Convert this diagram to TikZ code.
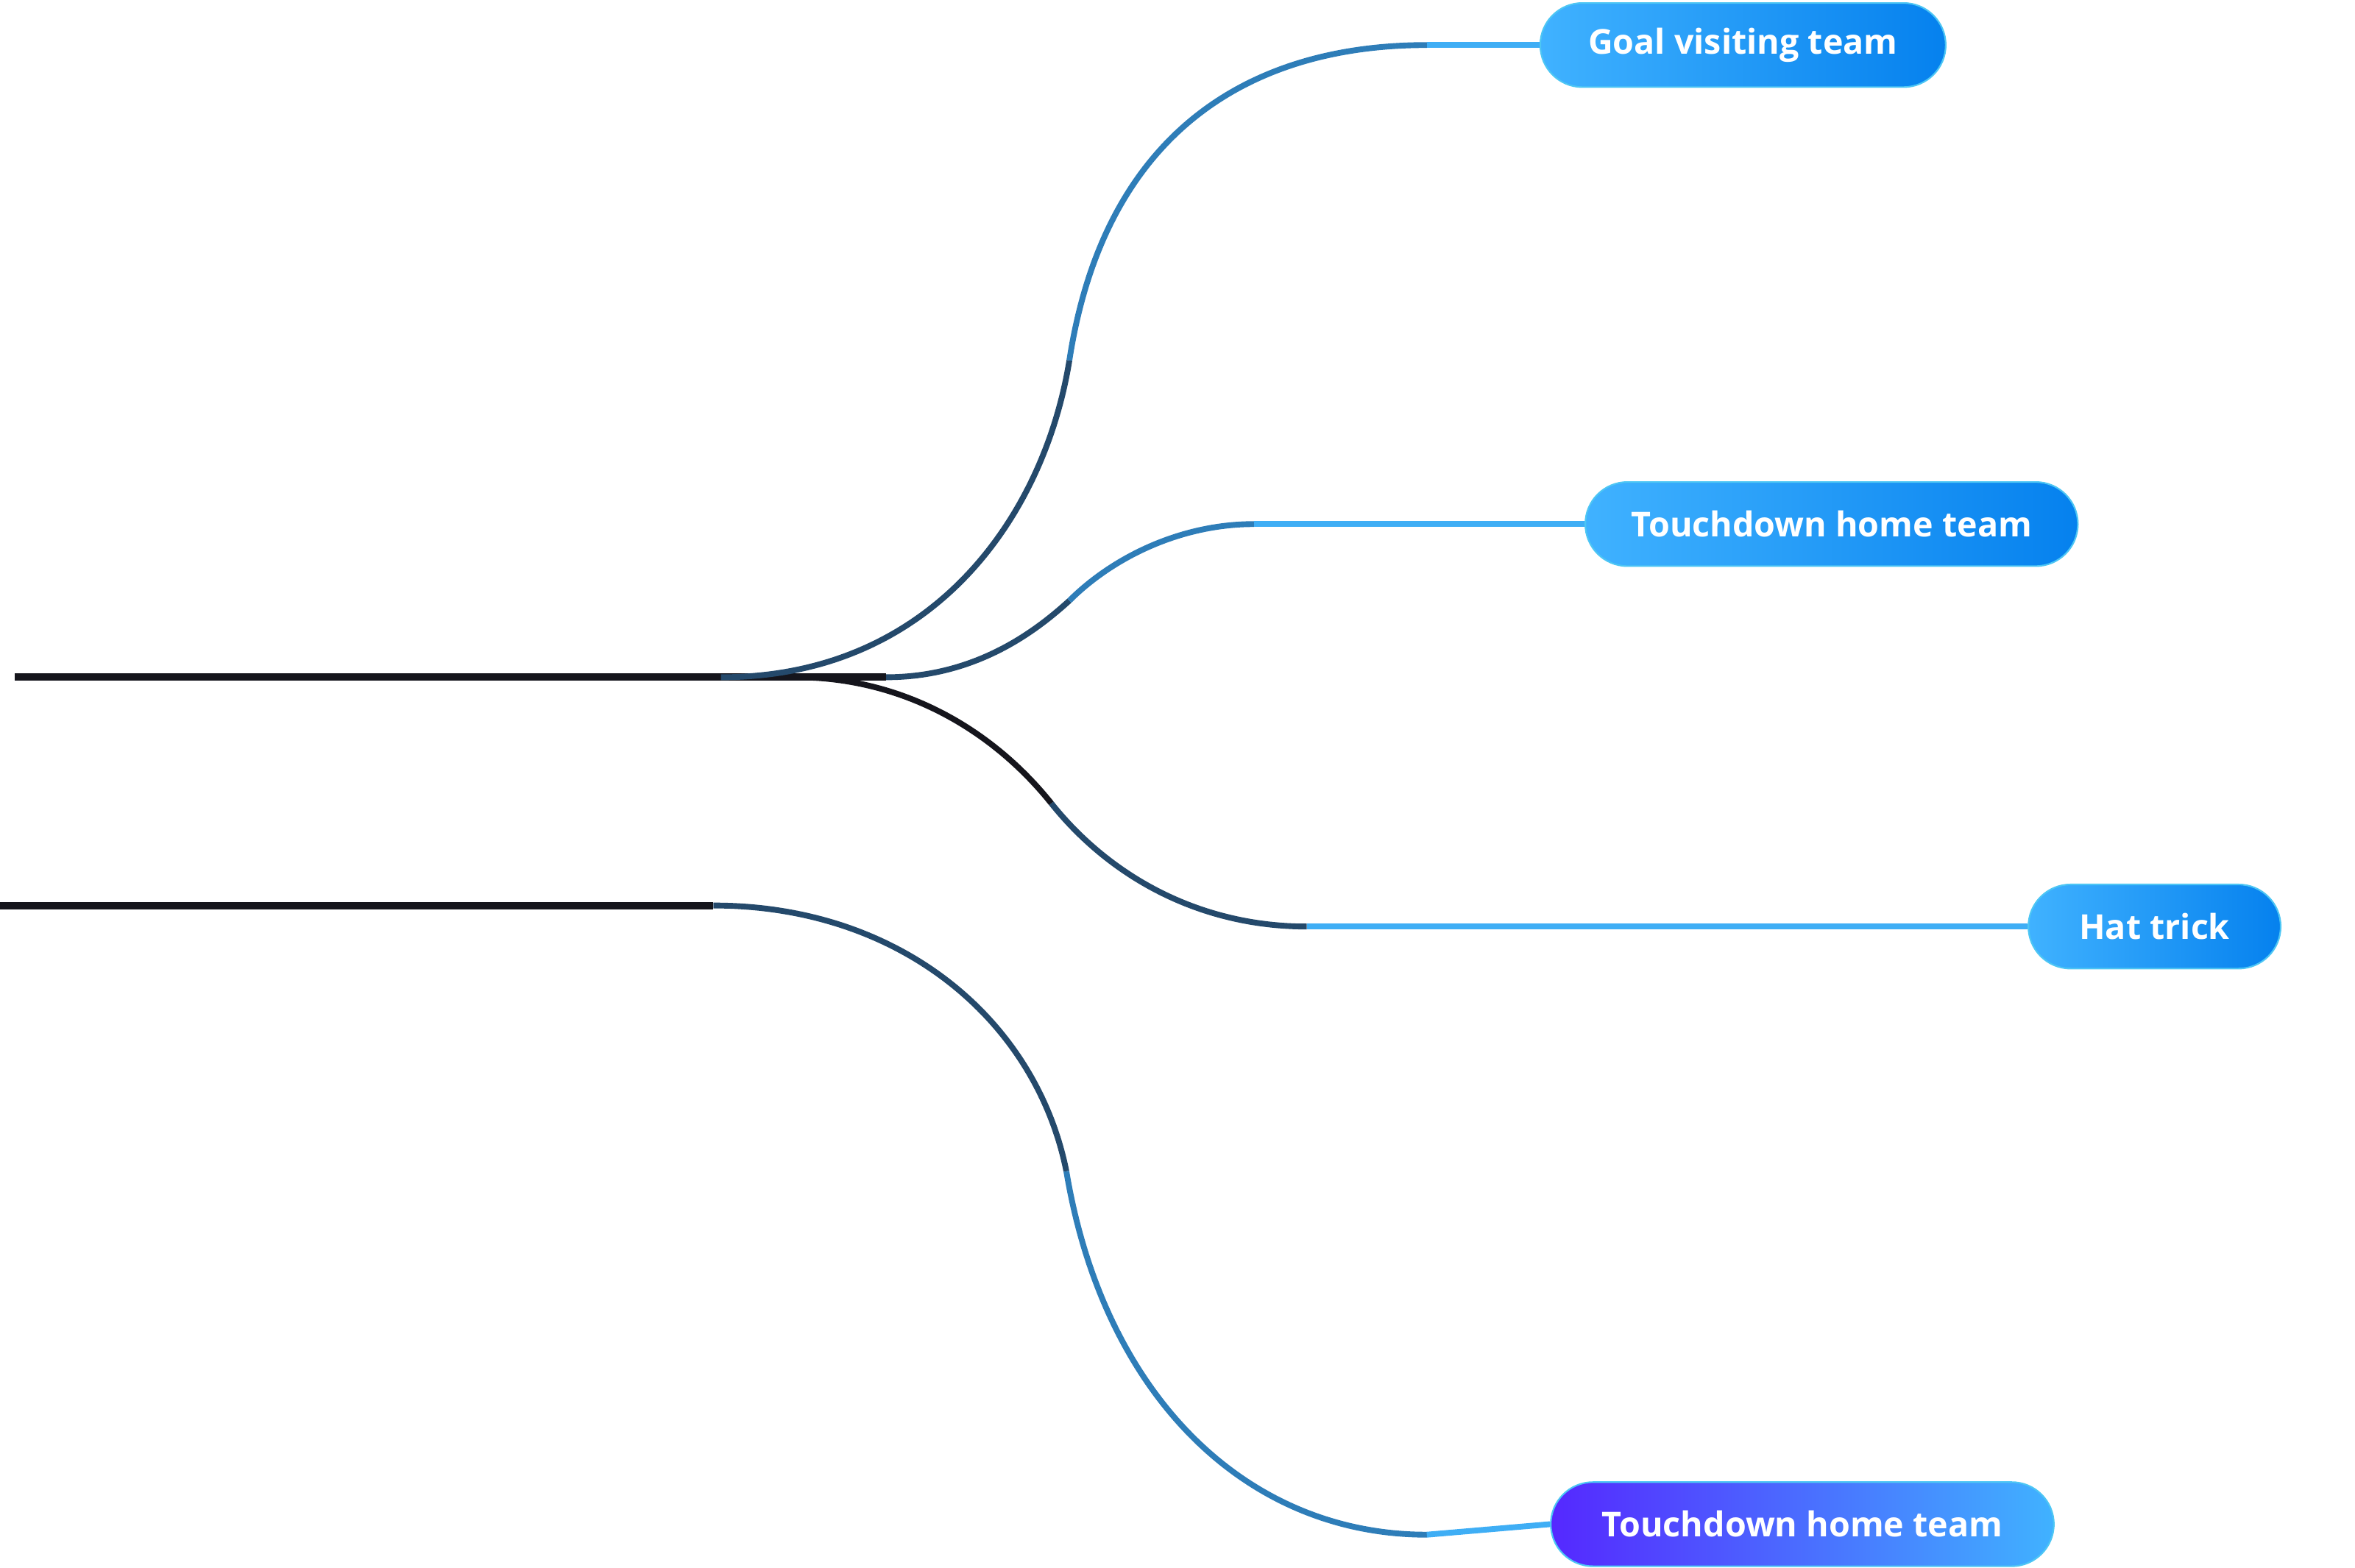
\documentclass[tikz,border=0pt]{standalone}
\usepackage{fontspec}
\setmainfont{Open Sans}
\usetikzlibrary{positioning}
\definecolor{trunk}{HTML}{15151C}
\definecolor{midblue}{HTML}{24496B}
\definecolor{deepblue}{HTML}{2E7DB8}
\definecolor{skyblue}{HTML}{3FAEF5}
\definecolor{pillL}{HTML}{40B2FF}
\definecolor{pillR}{HTML}{0581EE}
\definecolor{violet}{HTML}{5528FF}
\tikzset{
  pill/.style={rounded corners=0.56cm, minimum height=1.12cm, draw=cyan!70!white, line width=0.6pt,
    left color=pillL, right color=pillR, text=white, font=\fontsize{13}{15}\selectfont\bfseries, anchor=west},
  wire/.style={line width=2.2pt}
}
\begin{document}
\begin{tikzpicture}[x=0.02cm, y=-0.02cm]
\useasboundingbox (0,0) rectangle (1568,1044);

\node [pill, minimum width=5.4cm] (goal) at (1025,30) {Goal visiting team};
\node [pill, minimum width=6.56cm] (touch) at (1055,349) {Touchdown home team};
\node [pill, minimum width=3.36cm] (hat) at (1350,617) {Hat trick};
\node [pill, minimum width=6.7cm, left color=violet, right color=pillL] (touchb) at (1032,1015) {Touchdown home team};

\coordinate (top) at (10,451);
\coordinate (bot) at (0,603);
\coordinate (ja) at (480,451);
\coordinate (jb) at (475,603);

% trunks
\draw [wire, trunk, line width=2.8pt] (top) -- (590,451);
\draw [wire, trunk, line width=2.8pt] (bot) -- (jb);

% goal branch
\draw [wire, midblue] (ja) .. controls (620,451) and (695,345) .. (712,240);
\draw [wire, deepblue] (712,240) .. controls (735,90) and (830,30) .. (950,30);
\draw [wire, skyblue] (950,30) -- (goal.west);

% touchdown branch
\draw [wire, midblue] (590,451) .. controls (650,451) and (690,420) .. (712,400);
\draw [wire, deepblue] (712,400) .. controls (740,372) and (785,349) .. (835,349);
\draw [wire, skyblue] (835,349) -- (touch.west);

% hat trick branch
\draw [wire, trunk] (530,451) .. controls (600,451) and (660,485) .. (700,535);
\draw [wire, midblue] (700,535) .. controls (740,585) and (800,617) .. (870,617);
\draw [wire, skyblue] (870,617) -- (hat.west);

% lower branch
\draw [wire, midblue] (jb) .. controls (600,603) and (690,680) .. (710,780);
\draw [wire, deepblue] (710,780) .. controls (735,930) and (830,1022) .. (950,1022);
\draw [wire, skyblue] (950,1022) -- (touchb.west);

\end{tikzpicture}
\end{document}
